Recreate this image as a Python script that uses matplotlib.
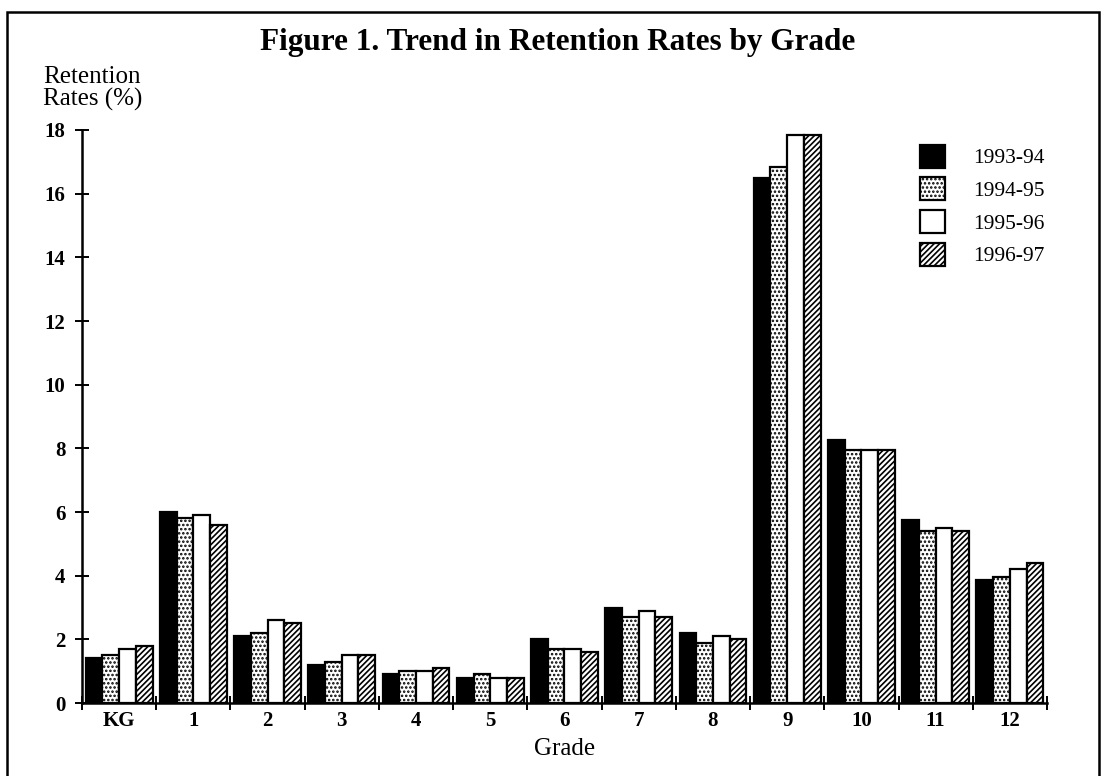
import matplotlib.pyplot as plt
import numpy as np
from matplotlib.patches import Rectangle, Patch

plt.rcParams['font.family'] = ['Liberation Serif', 'DejaVu Serif']
plt.rcParams['hatch.linewidth'] = 1.2

grades = ["KG", "1", "2", "3", "4", "5", "6", "7", "8", "9", "10", "11", "12"]
years = ["1993-94", "1994-95", "1995-96", "1996-97"]

rates_9394 = [1.4, 6.0, 2.1, 1.2, 0.9, 0.8, 2.0, 3.0, 2.2, 16.5, 8.25, 5.75, 3.85]
rates_9495 = [1.5, 5.8, 2.2, 1.3, 1.0, 0.9, 1.7, 2.7, 1.9, 16.85, 7.95, 5.4, 3.95]
rates_9596 = [1.7, 5.9, 2.6, 1.5, 1.0, 0.8, 1.7, 2.9, 2.1, 17.85, 7.95, 5.5, 4.2]
rates_9697 = [1.8, 5.6, 2.5, 1.5, 1.1, 0.8, 1.6, 2.7, 2.0, 17.85, 7.95, 5.4, 4.4]

series = [rates_9394, rates_9495, rates_9596, rates_9697]
faces = ["black", "white", "white", "white"]
hatches = [None, "....", None, "//////"]

fig = plt.figure(figsize=(11.05, 7.76), dpi=100)
ax = fig.add_axes([0.0742, 0.094, 0.8733, 0.7385])

x = np.arange(len(grades))
w = 0.225
for i, vals in enumerate(series):
    ax.bar(x + (i - 1.5) * w, vals, w, color=faces[i], edgecolor="black",
           linewidth=1.6, hatch=hatches[i], label=years[i])

ax.set_xlim(-0.5, len(grades) - 0.5)
ax.set_ylim(0, 18)
ax.set_yticks(np.arange(0, 19, 2))
ax.tick_params(axis='y', direction='inout', length=10, width=1.4, labelsize=15, pad=7)
for t in ax.get_yticklabels():
    t.set_fontweight('bold')
ax.set_xticks(x)
ax.set_xticklabels(grades, fontsize=15, fontweight='bold')
ax.tick_params(axis='x', which='major', length=0, pad=6)
ax.set_xticks(np.arange(-0.5, len(grades)), minor=True)
ax.tick_params(axis='x', which='minor', direction='inout', length=10, width=1.4)

for s in ["top", "right"]:
    ax.spines[s].set_visible(False)
ax.spines["left"].set_linewidth(1.8)
ax.spines["bottom"].set_linewidth(1.8)

ax.set_xlabel("Grade", fontsize=18, labelpad=5)

fig.text(0.505, 0.945, "Figure 1. Trend in Retention Rates by Grade",
         ha="center", va="center", fontsize=22.5, fontweight="bold")
fig.text(0.039, 0.886, "Retention\nRates (%)", ha="left", va="center",
         fontsize=18, linespacing=0.95)

handles = [Patch(facecolor=faces[i], edgecolor="black", hatch=hatches[i], linewidth=1.6)
           for i in range(4)]
ax.legend(handles, years, loc="upper right", bbox_to_anchor=(1.018, 1.008),
          frameon=False, fontsize=15.5, handlelength=1.2, handleheight=1.25,
          labelspacing=0.42, handletextpad=1.3)

fig.patches.append(Rectangle((0.006, -0.01), 0.989, 0.995, transform=fig.transFigure,
                             fill=False, edgecolor="black", linewidth=1.8))

fig.savefig("out.png", dpi=100)
